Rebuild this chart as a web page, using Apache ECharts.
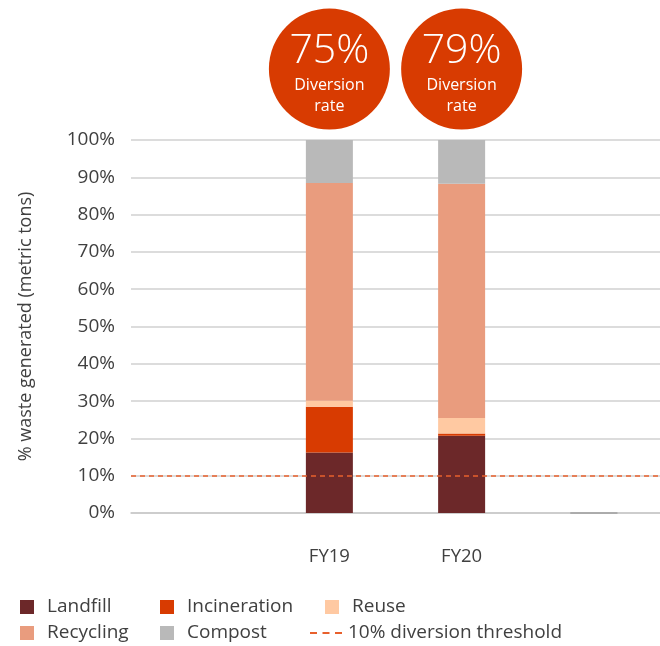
<!DOCTYPE html>
<html>
<head>
<meta charset="utf-8">
<script src="https://cdn.jsdelivr.net/npm/echarts@6/dist/echarts.min.js"></script>
<style>
html,body{margin:0;padding:0;background:#fff;}
#chart{width:660px;height:646px;}
</style>
</head>
<body>
<div id="chart"></div>
<script>
const categories = ['', 'FY19', 'FY20', ' '];
const landfill = [null, 16.2, 20.7, null];
const incineration = [null, 12.3, 0.6, null];
const reuse = [null, 1.6, 4.2, null];
const recycling = [null, 58.4, 62.8, null];
const compost = [null, 11.5, 11.7, 0];
const threshold = 10;
const diversionCats = ['FY19', 'FY20'];
const diversionRates = ['75%', '79%'];
const yTicks = [0, 10, 20, 30, 40, 50, 60, 70, 80, 90, 100];

const FONT = '"Open Sans", "Noto Sans", sans-serif';
const TXT = '#404040';

const chart = echarts.init(document.getElementById('chart'), null, {renderer: 'canvas'});

const colors = {
  'Landfill': '#6C2829',
  'Incineration': '#D83B01',
  'Reuse': '#FFC9A2',
  'Recycling': '#E99C7E',
  'Compost': '#B9B9B9',
  '10% diversion threshold': '#E8602C'
};

function barSeries(name, data) {
  return {
    name: name, type: 'bar', stack: 'total', barWidth: 47, data: data,
    itemStyle: {color: colors[name]}, emphasis: {disabled: true}
  };
}

const compostData = compost.map((v, i) => (i === 3 ? {value: v, itemStyle: {borderColor: '#A0A0A0', borderWidth: 1}} : v));

const legendDefs = [
  {name: 'Landfill', left: 15, top: 592.5},
  {name: 'Incineration', left: 155, top: 592.5},
  {name: 'Reuse', left: 320, top: 592.5},
  {name: 'Recycling', left: 15, top: 618.5},
  {name: 'Compost', left: 155, top: 618.5},
  {name: '10% diversion threshold', left: 305, top: 618.5}
];

const legends = legendDefs.map(d => {
  const isLine = d.name === '10% diversion threshold';
  return {
    data: [isLine ? {name: d.name, icon: 'path://M0,0h7v2h-7z M12.5,0h7v2h-7z M25,0h7v2h-7z'} : {name: d.name, icon: 'rect'}],
    left: d.left, top: d.top,
    itemWidth: isLine ? 32 : 14, itemHeight: isLine ? 2 : 14,
    itemGap: 0,
    selectedMode: false,
    textStyle: {fontFamily: FONT, fontSize: 19, color: TXT, padding: [0, 0, 0, isLine ? 1 : 8]}
  };
});

chart.setOption({
  animation: false,
  backgroundColor: '#fff',
  grid: {left: 131, right: -4, top: 140, bottom: 133, containLabel: false},
  legend: legends,
  xAxis: {
    type: 'category', data: categories,
    axisLine: {show: true, lineStyle: {color: '#C8C8C8', width: 1.5}},
    axisTick: {show: false},
    axisLabel: {fontFamily: FONT, fontSize: 18.5, color: TXT, margin: 34}
  },
  yAxis: {
    type: 'value', min: 0, max: 100, interval: 10,
    name: '% waste generated (metric tons)',
    nameLocation: 'middle', nameGap: 96, nameRotate: 90,
    nameTextStyle: {fontFamily: FONT, fontSize: 18, color: TXT},
    axisLine: {show: false}, axisTick: {show: false},
    axisLabel: {
      fontFamily: FONT, fontSize: 19, color: TXT, margin: 16,
      formatter: v => (yTicks.indexOf(v) >= 0 ? v + '%' : '')
    },
    splitLine: {lineStyle: {color: '#D0D0D0', width: 1.5}}
  },
  series: [
    barSeries('Landfill', landfill),
    barSeries('Incineration', incineration),
    barSeries('Reuse', reuse),
    barSeries('Recycling', recycling),
    barSeries('Compost', compostData),
    {
      name: '10% diversion threshold', type: 'line', data: [],
      itemStyle: {color: colors['10% diversion threshold']},
      lineStyle: {color: colors['10% diversion threshold'], type: [5, 4], width: 1.5},
      markLine: {
        silent: true, symbol: 'none', label: {show: false},
        lineStyle: {color: colors['10% diversion threshold'], type: [5, 4], width: 1.5},
        data: [{yAxis: threshold}]
      }
    }
  ]
});

// Diversion rate badges above each bar
const graphics = [];
diversionCats.forEach((cat, i) => {
  const cx = chart.convertToPixel({xAxisIndex: 0}, cat);
  const cy = 69;
  graphics.push({
    type: 'circle', shape: {cx: cx, cy: cy, r: 60.5},
    style: {fill: '#D83B01'}, z: 10
  });
  graphics.push({
    type: 'text', x: cx, y: cy - 18, z: 11,
    style: {text: diversionRates[i], fill: '#fff', fontFamily: FONT, fontWeight: 300, fontSize: 41, align: 'center', verticalAlign: 'middle'}
  });
  graphics.push({
    type: 'text', x: cx, y: cy + 16, z: 11,
    style: {text: 'Diversion', fill: '#fff', fontFamily: FONT, fontSize: 16, align: 'center', verticalAlign: 'middle'}
  });
  graphics.push({
    type: 'text', x: cx, y: cy + 37, z: 11,
    style: {text: 'rate', fill: '#fff', fontFamily: FONT, fontSize: 16, align: 'center', verticalAlign: 'middle'}
  });
});
chart.setOption({graphic: graphics});
</script>
</body>
</html>
